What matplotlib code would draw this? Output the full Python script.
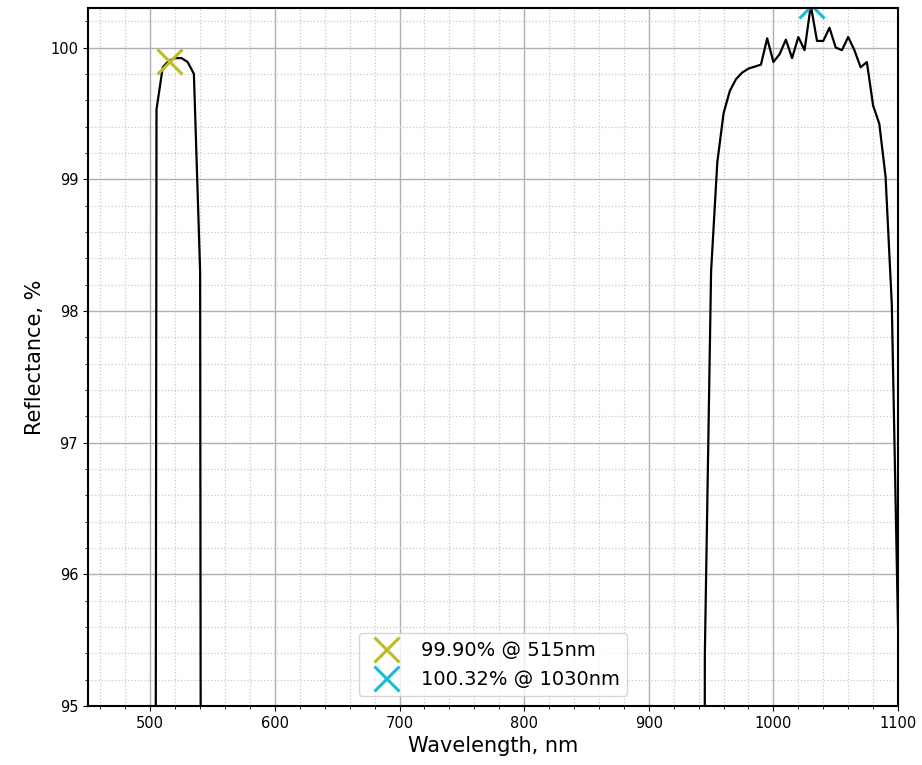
import numpy as np
import matplotlib
matplotlib.use('Agg')
import matplotlib.pyplot as plt
from matplotlib.ticker import MultipleLocator

# Reflectance spectrum (5 nm step in the bands)
wavelength = [450, 500, 505, 510, 515, 520, 525, 530, 535, 540, 545,
              940, 945, 950, 955, 960, 965, 970, 975, 980, 985, 990,
              995, 1000, 1005, 1010, 1015, 1020, 1025, 1030, 1035, 1040,
              1045, 1050, 1055, 1060, 1065, 1070, 1075, 1080, 1085, 1090,
              1095, 1100]
reflectance = [60.0, 60.0, 99.53, 99.85, 99.90, 99.92, 99.92, 99.89, 99.80, 98.30, 60.0,
               60.0, 95.40, 98.30, 99.13, 99.50, 99.67, 99.76, 99.81, 99.84, 99.855, 99.87,
               100.07, 99.89, 99.95, 100.06, 99.92, 100.08, 99.98, 100.32, 100.05, 100.05,
               100.15, 100.00, 99.98, 100.08, 99.98, 99.85, 99.89, 99.56, 99.42, 99.02,
               98.05, 95.60]

# Highlighted peaks
peak_wl = [515, 1030]
peak_val = [99.90, 100.32]
peak_colors = ['#bcbd22', '#17becf']

fig = plt.figure(figsize=(9.22, 7.65), dpi=100)
ax = fig.add_axes([0.0954, 0.0771, 0.8786, 0.9124])

ax.plot(wavelength, reflectance, color='black', linewidth=1.6)
for w, r, c in zip(peak_wl, peak_val, peak_colors):
    ax.plot(w, r, marker='x', linestyle='none', markersize=18, markeredgewidth=2.2,
            color=c, label='%.2f%% @ %dnm' % (r, w))

ax.set_xlim(450, 1100)
ax.set_ylim(95, 100.3)
ax.xaxis.set_major_locator(MultipleLocator(100))
ax.xaxis.set_minor_locator(MultipleLocator(20))
ax.yaxis.set_major_locator(MultipleLocator(1))
ax.yaxis.set_minor_locator(MultipleLocator(0.2))
ax.grid(True, which='major', color='#b0b0b0', linewidth=1.0)
ax.grid(True, which='minor', color='#c8c8c8', linestyle=':', linewidth=0.9)
ax.tick_params(axis='both', which='major', labelsize=10.5)
for s in ax.spines.values():
    s.set_linewidth(1.5)

ax.set_xlabel('Wavelength, nm', fontsize=15)
ax.set_ylabel('Reflectance, %', fontsize=15)
ax.legend(loc='lower center', fontsize=14)

fig.savefig('out.png', dpi=100)
